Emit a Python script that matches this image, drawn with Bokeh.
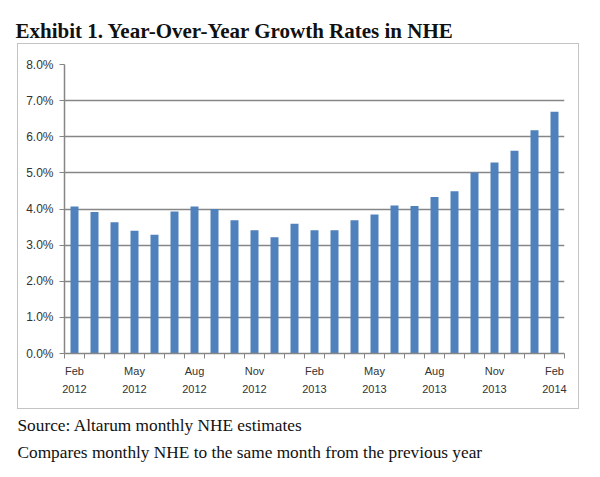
from bokeh.plotting import figure
from bokeh.layouts import column, row
from bokeh.models import (ColumnDataSource, FixedTicker, PrintfTickFormatter,
                          Range1d)
from bokeh.core.properties import value
from bokeh.embed import file_html
from bokeh.resources import INLINE

# ---- data ----
months = ["Feb 2012", "Mar 2012", "Apr 2012", "May 2012", "Jun 2012", "Jul 2012",
          "Aug 2012", "Sep 2012", "Oct 2012", "Nov 2012", "Dec 2012", "Jan 2013",
          "Feb 2013", "Mar 2013", "Apr 2013", "May 2013", "Jun 2013", "Jul 2013",
          "Aug 2013", "Sep 2013", "Oct 2013", "Nov 2013", "Dec 2013", "Jan 2014",
          "Feb 2014"]
growth = [4.07, 3.92, 3.63, 3.40, 3.29, 3.93, 4.07, 4.00, 3.69, 3.41, 3.22, 3.59,
          3.41, 3.41, 3.69, 3.85, 4.10, 4.08, 4.33, 4.49, 5.01, 5.29, 5.61, 6.18,
          6.69]
label_every = 3
y_ticks = [0, 1, 2, 3, 4, 5, 6, 7, 8]

title_text = ["Exhibit 1. Year-Over-Year Growth Rates in NHE"]
notes_text = ["Source: Altarum monthly NHE estimates",
              "Compares monthly NHE to the same month from the previous year"]

SERIF = "Liberation Serif"
SANS = "Liberation Sans"


def text_strip(w, h):
    f = figure(width=w, height=h, output_backend="svg", toolbar_location=None,
               x_range=Range1d(0, w), y_range=Range1d(h, 0),
               x_axis_location=None, y_axis_location=None,
               min_border=0, min_border_left=0, min_border_right=0,
               min_border_top=0, min_border_bottom=0, outline_line_color=None)
    f.grid.visible = False
    return f


# ---- title strip ----
head = text_strip(590, 43)
head.text(x=[15], y=[30], text=title_text, text_font=value(SERIF),
          text_font_size="21px", text_font_style="bold", text_color="#111111",
          text_baseline="alphabetic", text_align="left")

# ---- chart ----
idx = list(range(len(growth)))
src = ColumnDataSource(dict(x=idx, top=growth, month=months))

p = figure(width=562, height=366, output_backend="svg", toolbar_location=None,
           x_range=Range1d(-0.5, len(growth) - 0.5), y_range=Range1d(0, 8),
           min_border_left=46, min_border_right=16, min_border_top=20,
           min_border_bottom=57, outline_line_color=None,
           margin=(0, 0, 0, 17))
p.styles = {"border": "1px solid #c4c4c4"}
p.vbar(x="x", top="top", width=0.4, source=src, fill_color="#4F81BD",
       line_color=None)

lab_pos = idx[::label_every]
p.xaxis.ticker = FixedTicker(ticks=lab_pos,
                             minor_ticks=[i - 0.5 for i in range(len(growth) + 1)])
p.xaxis.major_label_overrides = {i: months[i].replace(" ", "\n") for i in lab_pos}
p.xaxis.major_tick_out = 0
p.xaxis.major_tick_in = 0
p.xaxis.minor_tick_out = 5
p.xaxis.minor_tick_in = 0
p.xaxis.minor_tick_line_color = "#868686"
p.xaxis.axis_line_color = "#868686"
p.xaxis.axis_line_width = 1.5
p.xaxis.major_label_text_font = SANS
p.xaxis.major_label_text_font_size = "11px"
p.xaxis.major_label_text_line_height = 1.5
p.xaxis.major_label_text_color = "#333333"
p.xaxis.major_label_standoff = 6

p.yaxis.ticker = FixedTicker(ticks=y_ticks)
p.yaxis.formatter = PrintfTickFormatter(format="%.1f%%")
p.yaxis.major_tick_out = 5
p.yaxis.major_tick_in = 0
p.yaxis.minor_tick_line_color = None
p.yaxis.major_tick_line_color = "#868686"
p.yaxis.axis_line_color = "#868686"
p.yaxis.axis_line_width = 1.5
p.yaxis.major_label_text_font = SANS
p.yaxis.major_label_text_font_size = "12px"
p.yaxis.major_label_text_color = "#333333"
p.yaxis.major_label_standoff = 6

p.xgrid.visible = False
p.ygrid.ticker = FixedTicker(ticks=y_ticks)
p.ygrid.grid_line_color = "#868686"
p.ygrid.grid_line_width = 1.5

# ---- notes strip ----
foot = text_strip(590, 64)
foot.text(x=[17, 17], y=[15.5, 42.5], text=notes_text, text_font=value(SERIF),
          text_font_size="17.3px", text_color="#111111",
          text_baseline="alphabetic", text_align="left")

layout = column(head, row(p), foot, spacing=0)
open("out.html", "w").write(file_html(layout, INLINE))
